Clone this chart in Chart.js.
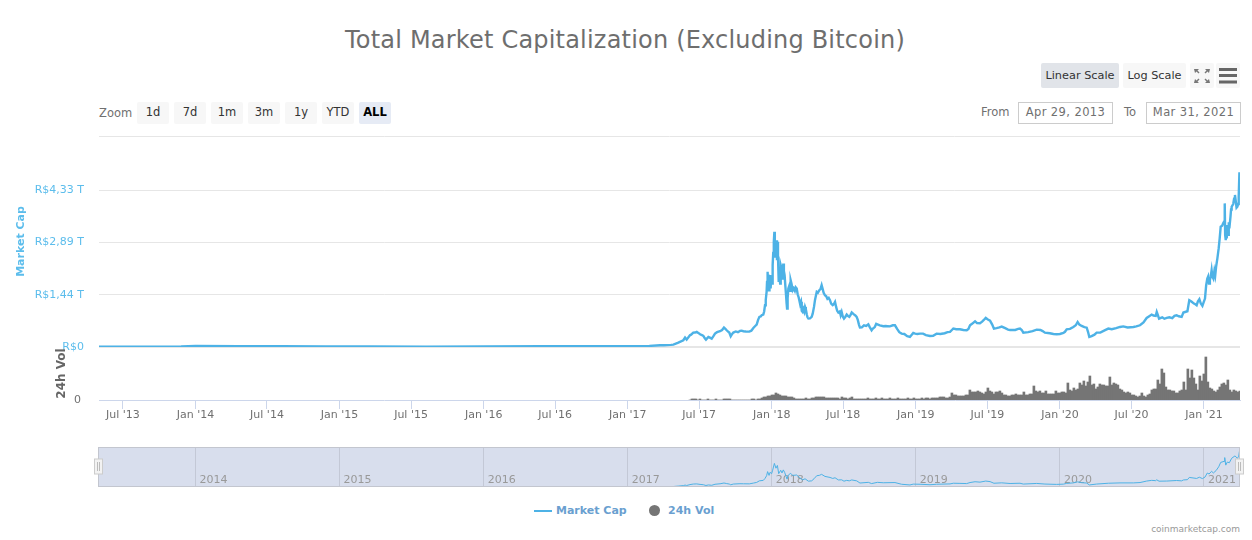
<!DOCTYPE html>
<html>
<head>
<meta charset="utf-8">
<title>Total Market Capitalization (Excluding Bitcoin)</title>
<script src="https://cdn.jsdelivr.net/npm/chart.js@4"></script>
<style>
  html, body { margin: 0; padding: 0; background: #fff; }
  body { width: 1252px; height: 540px; position: relative; overflow: hidden; font-family: "DejaVu Sans", sans-serif; }
  canvas, .abs { position: absolute; }
  #title { left: 0; width: 1250px; top: 26px; text-align: center; font-size: 24px; color: #6e6e6e; letter-spacing: .2px; }
  .btn { height: 22px; line-height: 21px; text-align: center; border-radius: 2px; background: #f7f7f7; color: #333; font-size: 11.5px; top: 102px; width: 32px; }
  .btn.on { background: #e6ebf5; color: #000; font-weight: bold; }
  .top { top: 63px; height: 25px; line-height: 25px; font-size: 11.3px; }
  .lbl { color: #707070; font-size: 11.5px; top: 105px; }
  .box { top: 102px; height: 20px; line-height: 19px; border: 1px solid #ccc; color: #707070; font-size: 11.5px; text-align: center; letter-spacing: .4px; }
  .leg { top: 504px; color: #6a9fd0; font-size: 11px; font-weight: bold; }
</style>
</head>
<body>
<div id="title" class="abs">Total Market Capitalization (Excluding Bitcoin)</div>

<div class="abs btn top on" style="left:1041px;width:78px;background:#e1e4e9;color:#333;font-weight:normal">Linear Scale</div>
<div class="abs btn top" style="left:1123px;width:63px">Log Scale</div>
<div class="abs btn top" style="left:1190px;width:24px">
  <svg width="24" height="25" style="display:block"><path d="M4 6h5l-1.5 1.5 2 2-1 1-2-2L5 10zM20 6h-5l1.5 1.5-2 2 1 1 2-2L19 10zM4 20h5l-1.5-1.5 2-2-1-1-2 2L5 16zM20 20h-5l1.500-1.500-2-2 1-1 2 2L19 16z" fill="#777"/></svg>
</div>
<div class="abs btn top" style="left:1216px;width:24px">
  <svg width="24" height="25" style="display:block"><path d="M3 5h18v3H3zM3 11h18v3H3zM3 17.500h18v3H3z" fill="#666"/></svg>
</div>

<div class="abs lbl" style="left:99px;top:106px">Zoom</div>
<div class="abs btn" style="left:137px">1d</div>
<div class="abs btn" style="left:174px">7d</div>
<div class="abs btn" style="left:211px">1m</div>
<div class="abs btn" style="left:248px">3m</div>
<div class="abs btn" style="left:285px">1y</div>
<div class="abs btn" style="left:322px">YTD</div>
<div class="abs btn on" style="left:359px">ALL</div>

<div class="abs lbl" style="left:981px">From</div>
<div class="abs box" style="left:1018px;width:93px">Apr 29, 2013</div>
<div class="abs lbl" style="left:1124px">To</div>
<div class="abs box" style="left:1146px;width:93px">Mar 31, 2021</div>

<canvas id="capChart" width="1252" height="259" style="left:0;top:112px"></canvas>
<canvas id="volChart" width="1252" height="101" style="left:0;top:329px"></canvas>
<canvas id="navChart" width="1252" height="55" style="left:0;top:440px"></canvas>

<div class="abs" style="left:534px;top:509.500px;width:18px;height:2px;background:#4db2e6"></div>
<div class="abs leg" style="left:556px">Market Cap</div>
<div class="abs" style="left:649px;top:504.500px;width:11px;height:11px;border-radius:50%;background:#757575"></div>
<div class="abs leg" style="left:668px">24h Vol</div>
<div class="abs" style="right:12px;top:524px;font-size:9px;color:#999">coinmarketcap.com</div>

<script>
// market cap, R$ trillions. x is a decimal year
const capYears = [
  2013.33, 2013.6, 2013.9, 2014.0, 2014.3, 2014.6, 2014.9, 2015.2, 2015.6, 2016.0, 2016.4, 2016.8, 2017.0, 2017.15,
  2017.224, 2017.317, 2017.351, 2017.386, 2017.398, 2017.409, 2017.432, 2017.455, 2017.479, 2017.502, 2017.525,
  2017.543, 2017.56, 2017.583, 2017.606, 2017.641, 2017.668, 2017.687, 2017.705, 2017.715, 2017.733, 2017.779,
  2017.803, 2017.844, 2017.872, 2017.895, 2017.914, 2017.941, 2017.953, 2017.964, 2017.971, 2017.981, 2017.988,
  2017.999, 2018.006, 2018.018, 2018.029, 2018.039, 2018.048, 2018.062, 2018.071, 2018.08, 2018.089, 2018.099,
  2018.106, 2018.115, 2018.131, 2018.145, 2018.173, 2018.191, 2018.214, 2018.231, 2018.254, 2018.277, 2018.293,
  2018.312, 2018.33, 2018.346, 2018.369, 2018.404, 2018.423, 2018.439, 2018.462, 2018.485, 2018.501, 2018.52,
  2018.538, 2018.555, 2018.589, 2018.612, 2018.67, 2018.693, 2018.733, 2018.774, 2018.855, 2018.901, 2018.959,
  2018.982, 2019.029, 2019.098, 2019.144, 2019.237, 2019.26, 2019.306, 2019.353, 2019.376, 2019.411, 2019.445,
  2019.485, 2019.515, 2019.542, 2019.596, 2019.654, 2019.723, 2019.746, 2019.839, 2019.896, 2019.977, 2020.024,
  2020.047, 2020.093, 2020.123, 2020.151, 2020.186, 2020.204, 2020.255, 2020.336, 2020.417, 2020.51, 2020.556,
  2020.602, 2020.637, 2020.665, 2020.672, 2020.688, 2020.741, 2020.81, 2020.845, 2020.857, 2020.885, 2020.898,
  2020.949, 2020.968, 2020.989, 2021.007, 2021.023, 2021.035, 2021.053, 2021.065, 2021.084, 2021.102, 2021.116,
  2021.139, 2021.144, 2021.151, 2021.162, 2021.176, 2021.192, 2021.215, 2021.232, 2021.241, 2021.246
];
const capValues = [
  0.008, 0.007, 0.012, 0.03, 0.025, 0.02, 0.014, 0.012, 0.01, 0.012, 0.02, 0.02, 0.02, 0.03,
  0.047, 0.066, 0.121, 0.186, 0.259, 0.204, 0.324, 0.398, 0.416, 0.352, 0.306,
  0.204, 0.278, 0.232, 0.37, 0.435, 0.536, 0.462, 0.398, 0.296, 0.398, 0.444,
  0.435, 0.426, 0.527, 0.619, 0.832, 0.896, 1.155, 1.524, 2.077, 1.57, 1.985,
  1.8, 2.262, 3.184, 2.539, 2.908, 1.8, 2.262, 1.893, 2.308, 1.985, 1.431,
  1.062, 1.616, 1.847, 1.57, 1.616, 1.293, 0.97, 1.108, 0.785, 0.832, 1.108,
  1.524, 1.57, 1.708, 1.431, 1.293, 1.155, 1.247, 0.952, 0.97, 0.785, 0.896,
  0.832, 0.952, 0.832, 0.536, 0.628, 0.462, 0.628, 0.573, 0.6, 0.37, 0.277,
  0.388, 0.37, 0.305, 0.37, 0.416, 0.508, 0.489, 0.462, 0.6, 0.711, 0.656,
  0.803, 0.729, 0.508, 0.563, 0.471, 0.508, 0.397, 0.48, 0.397, 0.351, 0.388,
  0.489, 0.554, 0.692, 0.581, 0.535, 0.277, 0.397, 0.508, 0.554, 0.554, 0.6,
  0.803, 0.895, 0.858, 0.969, 0.785, 0.803, 0.877, 0.831, 0.951, 0.988, 1.292,
  1.154, 1.32, 1.135, 1.338, 1.892, 1.753, 2.122, 1.892, 2.215, 2.722, 3.322,
  3.46, 3.968, 2.953, 3.368, 3.276, 3.876, 4.199, 3.876, 4.152, 4.826
];

// finer readings for the main panel, the navigator stays on the coarse ones
const capDetailYears = [
  2017.25, 2017.3, 2017.44, 2017.468, 2017.49, 2017.515, 2017.535, 2017.57, 2017.595, 2017.62, 2017.655, 2017.678,
  2017.695, 2017.725, 2017.75, 2017.765, 2017.79, 2017.82, 2017.858, 2017.885, 2017.905, 2017.925, 2017.93, 2017.947,
  2017.958, 2017.967, 2017.974, 2017.977, 2017.984, 2017.992, 2017.996, 2018.003, 2018.01, 2018.014, 2018.021, 2018.025,
  2018.033, 2018.036, 2018.043, 2018.052, 2018.058, 2018.066, 2018.075, 2018.084, 2018.093, 2018.103, 2018.11, 2018.122,
  2018.127, 2018.137, 2018.152, 2018.16, 2018.166, 2018.18, 2018.186, 2018.197, 2018.203, 2018.208, 2018.22, 2018.226,
  2018.236, 2018.243, 2018.248, 2018.265, 2018.284, 2018.3, 2018.32, 2018.338, 2018.352, 2018.36, 2018.378, 2018.386,
  2018.395, 2018.412, 2018.43, 2018.447, 2018.454, 2018.472, 2018.478, 2018.493, 2018.51, 2018.528, 2018.546, 2018.57,
  2018.58, 2018.597, 2018.605, 2018.625, 2018.64, 2018.655, 2018.68, 2018.7, 2018.715, 2018.725, 2018.75, 2018.79,
  2018.82, 2018.84, 2018.87, 2018.885, 2018.92, 2018.94, 2018.97, 2018.995, 2019.01, 2019.05, 2019.07, 2019.12,
  2019.17, 2019.2, 2019.22, 2019.25, 2019.28, 2019.33, 2019.365, 2019.39, 2019.425, 2019.46, 2019.47, 2019.5,
  2019.53, 2019.56, 2019.58, 2019.62, 2019.64, 2019.69, 2019.71, 2019.735, 2019.78, 2019.81, 2019.865, 2019.88,
  2019.93, 2019.955, 2020.0, 2020.035, 2020.07, 2020.11, 2020.135, 2020.17, 2020.195, 2020.22, 2020.24, 2020.28,
  2020.31, 2020.36, 2020.39, 2020.44, 2020.47, 2020.53, 2020.58, 2020.62, 2020.65, 2020.68, 2020.71, 2020.725,
  2020.76, 2020.78, 2020.795, 2020.825, 2020.915, 2020.93, 2020.94, 2020.958, 2020.978, 2020.998, 2021.015, 2021.029,
  2021.041, 2021.047, 2021.058, 2021.072, 2021.078, 2021.093, 2021.109, 2021.126, 2021.133, 2021.147, 2021.155, 2021.158,
  2021.168, 2021.172, 2021.184, 2021.188, 2021.203, 2021.209, 2021.22, 2021.226, 2021.237
];
const capDetailValues = [
  0.05, 0.06, 0.34, 0.4, 0.39, 0.33, 0.24, 0.26, 0.3, 0.41, 0.47, 0.5,
  0.43, 0.36, 0.43, 0.41, 0.45, 0.43, 0.45, 0.58, 0.75, 0.85, 0.88, 0.98,
  1.3, 1.8, 1.65, 2.0, 1.75, 1.62, 1.95, 1.75, 2.6, 2.9, 2.85, 2.5,
  2.95, 2.4, 2.5, 2.0, 1.75, 2.2, 1.95, 2.1, 1.75, 1.2, 1.35, 1.7,
  1.55, 1.75, 1.62, 1.55, 1.65, 1.45, 1.38, 1.18, 1.25, 1.0, 1.05, 0.98,
  1.05, 0.9, 0.82, 0.79, 0.92, 1.3, 1.5, 1.6, 1.62, 1.5, 1.4, 1.33,
  1.36, 1.2, 1.18, 1.1, 1.0, 0.98, 0.88, 0.84, 0.83, 0.86, 0.88, 0.9,
  0.87, 0.75, 0.62, 0.54, 0.6, 0.58, 0.55, 0.5, 0.55, 0.64, 0.6, 0.58,
  0.57, 0.6, 0.5, 0.41, 0.36, 0.3, 0.33, 0.37, 0.36, 0.37, 0.33, 0.31,
  0.36, 0.38, 0.41, 0.47, 0.49, 0.47, 0.5, 0.64, 0.66, 0.7, 0.74, 0.76,
  0.62, 0.52, 0.54, 0.52, 0.48, 0.47, 0.5, 0.47, 0.41, 0.44, 0.47, 0.44,
  0.38, 0.36, 0.36, 0.42, 0.5, 0.6, 0.62, 0.55, 0.42, 0.3, 0.34, 0.4,
  0.46, 0.49, 0.52, 0.57, 0.54, 0.57, 0.68, 0.85, 0.87, 0.88, 0.82, 0.78,
  0.82, 0.8, 0.86, 0.85, 1.25, 1.2, 1.18, 1.26, 1.2, 1.24, 1.7, 1.95,
  1.85, 1.95, 1.95, 2.1, 1.98, 2.45, 3.0, 3.35, 3.42, 3.1, 3.35, 3.0,
  3.1, 3.45, 3.6, 3.8, 3.95, 4.1, 4.05, 3.85, 3.95
];

// 24h volume, R$ billions, one reading about every 5 days
const volStartYear = 2017.432;
const volStepYears = 0.01388;
const volValues = [
  0,50,50,50,0,50,0,0,0,50,0,0,0,50,0,0,0,50,50,50,50,0,0,0,0,0,0,0,0,0,
  0,50,50,0,50,50,
  100,150,150,200,200,
  250,250,350,300,250,
  200,200,200,150,150,
  150,100,50,50,50,
  50,50,100,50,50,
  100,100,150,150,150,
  150,150,100,100,100,
  100,100,100,100,50,
  150,100,100,50,100,
  150,50,50,50,50,
  50,50,50,100,50,50,50,100,50,50,
  100,50,50,50,100,50,50,50,100,50,
  50,50,50,100,50,50,100,50,50,50,100,50,100,100,50,
  100,100,100,100,150,150,150,100,100,150,
  350,250,250,200,200,200,200,250,250,500,
  400,400,400,450,400,350,300,400,600,450,
  400,300,400,400,450,350,250,250,200,200,
  250,250,300,250,250,250,400,250,250,300,
  300,700,450,400,450,350,350,450,300,300,
  300,300,450,350,350,400,400,350,850,500,
  450,600,500,550,850,750,950,700,900,1200,
  750,800,550,650,800,750,750,700,700,1150,
  750,850,800,750,550,500,400,350,400,350,
  250,250,200,150,200,350,200,150,250,300,
  500,550,550,1000,800,1550,1350,650,500,500,
  450,450,350,350,450,500,900,500,1550,1100,
  1500,1100,800,500,1200,950,1300,2150,900,600,
  550,450,400,500,650,800,850,750,1000,500,
  400,500,450,400,450
];

// axis ticks
const capTicks = [0, 1.443, 2.887, 4.33, 5.83];
const capTickLabels = ['R$0', 'R$1,44 T', 'R$2,89 T', 'R$4,33 T', ''];
const timeTicks = [2013.496, 2014, 2014.496, 2015, 2015.496, 2016, 2016.496, 2017, 2017.496, 2018, 2018.496, 2019, 2019.496, 2020, 2020.497, 2021];
const timeTickLabels = ["Jul '13", "Jan '14", "Jul '14", "Jan '15", "Jul '15", "Jan '16", "Jul '16", "Jan '17", "Jul '17", "Jan '18", "Jul '18", "Jan '19", "Jul '19", "Jan '20", "Jul '20", "Jan '21"];
const navTicks = [2014, 2015, 2016, 2017, 2018, 2019, 2020, 2021];
const navTickLabels = ['2014', '2015', '2016', '2017', '2018', '2019', '2020', '2021'];

const xMin = 2013.33;
const xMax = 2021.25;
const capMax = 5.83;
const volMax = 2650;
const navMax = 5.4;
const fontName = '"DejaVu Sans"';
const capColor = '#4db2e6';
const volColor = '#757575';

const navPoints = capYears.map((x, i) => ({ x: x, y: capValues[i] }));
const capPoints = navPoints
  .concat(capDetailYears.map((x, i) => ({ x: x, y: capDetailValues[i] })))
  .sort((a, b) => a.x - b.x);
const volPoints = volValues.map((v, i) => ({ x: volStartYear + i * volStepYears, y: v }));

Chart.defaults.animation = false;
Chart.defaults.responsive = false;
Chart.defaults.plugins.legend.display = false;
Chart.defaults.plugins.tooltip.enabled = false;

new Chart(document.getElementById('capChart'), {
  type: 'line',
  data: { datasets: [{ data: capPoints, borderColor: capColor, borderWidth: 2.4, pointRadius: 0, tension: 0 }] },
  options: {
    layout: { padding: { top: 24, bottom: 24, left: 0, right: 12 } },
    scales: {
      x: { type: 'linear', display: false, min: xMin, max: xMax },
      y: {
        min: 0,
        max: capMax,
        afterBuildTicks: s => { s.ticks = capTicks.map(v => ({ value: v })); },
        afterFit: s => { s.width = 99; },
        ticks: {
          padding: 15,
          color: '#5cbdec',
          font: { family: fontName, size: 11 },
          callback: (v) => capTickLabels[capTicks.indexOf(v)]
        },
        border: { display: false },
        grid: { drawTicks: false, color: '#e6e6e6', lineWidth: c => (c.tick && c.tick.value === 0 ? 2 : 1) },
        title: { display: true, text: 'Market Cap', color: '#5cbdec', font: { family: fontName, size: 11, weight: 'bold' }, padding: { top: 15, bottom: 0 } }
      }
    }
  }
});

new Chart(document.getElementById('volChart'), {
  type: 'bar',
  data: { datasets: [{ data: volPoints, backgroundColor: volColor, barThickness: 2 }] },
  options: {
    layout: { padding: { top: 18, bottom: 0, left: 0, right: 12 } },
    scales: {
      x: {
        type: 'linear',
        offset: false,
        min: xMin,
        max: xMax,
        afterBuildTicks: s => { s.ticks = timeTicks.map(v => ({ value: v })); },
        afterFit: s => { s.height = 30; },
        ticks: {
          autoSkip: false,
          maxRotation: 0,
          padding: 0,
          color: '#707070',
          font: { family: fontName, size: 11 },
          callback: (v) => timeTickLabels[timeTicks.indexOf(v)]
        },
        border: { color: '#ccd6eb' },
        grid: { offset: false, drawOnChartArea: false, color: '#ccd6eb', tickLength: 9 }
      },
      y: {
        min: 0,
        max: volMax,
        afterBuildTicks: s => { s.ticks = [{ value: 0 }]; },
        afterFit: s => { s.width = 99; },
        ticks: { padding: 10, color: '#707070', font: { family: fontName, size: 11 } },
        border: { display: false },
        grid: { display: false },
        title: { display: true, text: '24h Vol', color: '#666', font: { family: fontName, size: 12, weight: 'bold' }, padding: { top: 55, bottom: 0 } }
      }
    }
  }
});

// navigator background, frame and the two drag handles
const navFrame = {
  id: 'navFrame',
  beforeDraw(chart) {
    const a = chart.chartArea;
    const ctx = chart.ctx;
    ctx.save();
    ctx.fillStyle = '#d8deed';
    ctx.fillRect(a.left, a.top, a.right - a.left, a.bottom - a.top);
    ctx.restore();
  },
  afterDraw(chart) {
    const a = chart.chartArea;
    const ctx = chart.ctx;
    ctx.save();
    ctx.strokeStyle = '#c3c6cf';
    ctx.lineWidth = 1;
    ctx.strokeRect(a.left - 0.5, a.top + 0.5, a.right - a.left, a.bottom - a.top - 1);
    [a.left - 0.5, a.right - 0.5].forEach(h => {
      ctx.fillStyle = '#f2f2f2';
      ctx.strokeStyle = '#ccc';
      ctx.fillRect(h - 4, a.top + 12, 8, 15);
      ctx.strokeRect(h - 4, a.top + 12, 8, 15);
      ctx.strokeStyle = '#bbb';
      ctx.beginPath();
      ctx.moveTo(h - 1, a.top + 15);
      ctx.lineTo(h - 1, a.top + 24);
      ctx.moveTo(h + 1, a.top + 15);
      ctx.lineTo(h + 1, a.top + 24);
      ctx.stroke();
    });
    ctx.restore();
  }
};

new Chart(document.getElementById('navChart'), {
  type: 'line',
  data: { datasets: [{ data: navPoints, borderColor: capColor, borderWidth: 1, pointRadius: 0, tension: 0, fill: false }] },
  plugins: [navFrame],
  options: {
    layout: { padding: { top: 7, bottom: 8, left: 99, right: 12 } },
    scales: {
      x: {
        type: 'linear',
        min: xMin,
        max: xMax,
        afterBuildTicks: s => { s.ticks = navTicks.map(v => ({ value: v })); },
        afterFit: s => { s.height = 0; },
        ticks: {
          mirror: true,
          autoSkip: false,
          maxRotation: 0,
          align: 'start',
          labelOffset: 4,
          padding: 0,
          color: '#999',
          font: { family: fontName, size: 11 },
          callback: (v) => navTickLabels[navTicks.indexOf(v)]
        },
        border: { display: false },
        grid: { drawTicks: false, color: '#c3c8d6' }
      },
      y: { display: false, min: 0, max: navMax }
    }
  }
});
</script>
</body>
</html>
